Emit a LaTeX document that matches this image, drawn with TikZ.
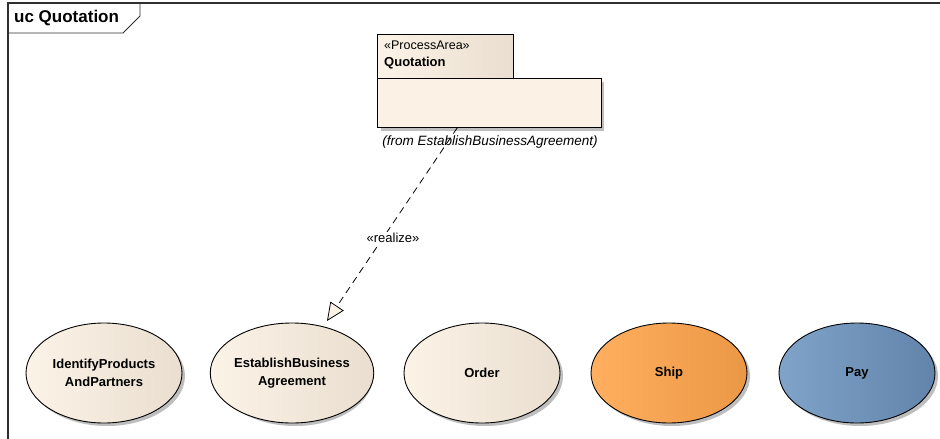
\documentclass[tikz,border=0pt]{standalone}
\usepackage{fontspec}
\setmainfont{Liberation Sans}
\usetikzlibrary{shapes.geometric,arrows.meta,calc}
\definecolor{framecol}{HTML}{303030}
\definecolor{creamL}{HTML}{FCF3E7}
\definecolor{creamR}{HTML}{E9DECF}
\definecolor{bodycol}{HTML}{FBF1E4}
\definecolor{shipL}{HTML}{FFAF5F}
\definecolor{shipR}{HTML}{EB9846}
\definecolor{payL}{HTML}{80A3C9}
\definecolor{payR}{HTML}{6284AA}
\definecolor{shadecol}{HTML}{BEBEBE}
\tikzset{
  usecase/.style={ellipse, draw=black, line width=0.9pt, minimum width=156pt,
    minimum height=100pt, inner sep=0pt, align=center,
    font=\fontsize{13}{17.5}\selectfont\bfseries},
  ucshadow/.style={ellipse, fill=shadecol, minimum width=156pt,
    minimum height=100pt, inner sep=0pt},
  cream/.style={left color=creamL, right color=creamR},
  shipfill/.style={left color=shipL, right color=shipR},
  payfill/.style={left color=payL, right color=payR},
  pkgbox/.style={draw=black, line width=0.8pt, inner sep=0pt, anchor=north west},
  plain/.style={inner sep=1pt, anchor=west}
}
\begin{document}
\begin{tikzpicture}[x=1pt,y=-1pt]
\useasboundingbox (0,0) rectangle (940,439);
\fill[white] (0,0) rectangle (940,439);

% diagram frame with its name tab
\draw[framecol, line width=1.2pt] (940,3) -- (8,3) -- (8,439);
\draw[framecol, line width=0.9pt] (8,33) -- (123,33) -- (140,16) -- (140,3);
\node[plain, font=\fontsize{17}{19}\selectfont\bfseries] (title) at (13,18) {uc Quotation};

% process area package
\fill[shadecol] (381,82) rectangle (604,131);
\node[pkgbox, cream, minimum width=136pt, minimum height=44pt] (pkgtab) at (377,34) {};
\node[pkgbox, fill=bodycol, minimum width=224pt, minimum height=49pt] (pkgbody) at (377,78) {};
\node[plain, font=\fontsize{12.5}{13}\selectfont] (stereo) at (383,45) {«ProcessArea»};
\node[plain, font=\fontsize{13}{14}\selectfont\bfseries] (pkgname) at (383,63) {Quotation};
\node[font=\fontsize{13.5}{14}\selectfont\itshape, inner sep=1pt] (fromtxt) at (490,142) {(from EstablishBusinessAgreement)};

% use case shadows
\foreach \cx in {104,292,482,669,857}
  \node[ucshadow] at (\cx+3,376) {};

% use cases
\node[usecase, cream] (ipp) at (104,373) {IdentifyProducts\\AndPartners};
\node[usecase, cream] (eba) at (292,373) {EstablishBusiness\\Agreement};
\node[usecase, cream] (order) at (482,373) {Order};
\node[usecase, shipfill] (ship) at (669,373) {Ship};
\node[usecase, payfill] (pay) at (857,373) {Pay};

% realization: dashed line from the package to the use case, open triangle head
\draw[black, line width=0.8pt, dash pattern=on 7pt off 5pt,
  -{Triangle[length=18pt, width=16pt, fill=creamL, line width=0.8pt]}]
  ($(pkgbody.south west)!0.357!(pkgbody.south east)$) -- ($(eba.center)+(35,-52)$)
  node[pos=0.57, xshift=10pt, fill=white, inner sep=1pt, font=\fontsize{13}{14}\selectfont] (real) {«realize»};
\end{tikzpicture}
\end{document}
